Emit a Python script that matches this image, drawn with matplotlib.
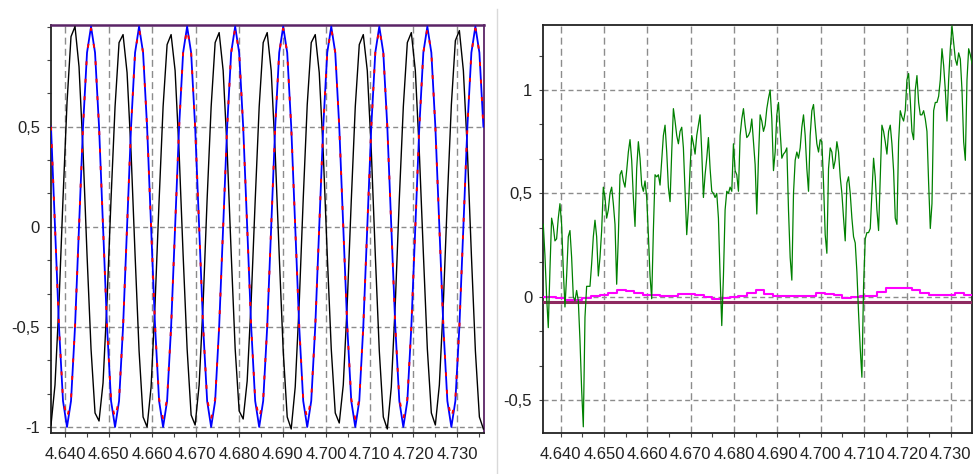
import numpy as np
import matplotlib
matplotlib.use('Agg')
import matplotlib.pyplot as plt
from matplotlib.ticker import MultipleLocator, AutoMinorLocator, FixedLocator, FuncFormatter
from matplotlib.lines import Line2D

# ---- left panel: three sampled waveforms (12 samples per period) ----
left_t0 = 4.63679
left_dt = 0.0009192

black_vals = [
    -0.99, -0.79, -0.38, 0.14, 0.62, 0.95, 1.00, 0.80, 0.38, -0.14, -0.61, -0.93,
    -0.97, -0.78, -0.37, 0.14, 0.60, 0.92, 0.96, 0.77, 0.37, -0.14, -0.62, -0.95,
    -1.00, -0.80, -0.38, 0.13, 0.60, 0.91, 0.96, 0.78, 0.37, -0.14, -0.61, -0.94,
    -0.99, -0.79, -0.38, 0.14, 0.60, 0.92, 0.97, 0.78, 0.38, -0.13, -0.61, -0.92,
    -0.96, -0.77, -0.37, 0.13, 0.60, 0.92, 0.97, 0.78, 0.37, -0.14, -0.62, -0.95,
    -1.01, -0.80, -0.38, 0.14, 0.61, 0.92, 0.96, 0.77, 0.37, -0.14, -0.61, -0.93,
    -0.98, -0.79, -0.38, 0.13, 0.60, 0.91, 0.96, 0.78, 0.38, -0.14, -0.62, -0.95,
    -1.01, -0.80, -0.38, 0.14, 0.60, 0.92, 0.97, 0.78, 0.37, -0.13, -0.61, -0.93,
    -0.99, -0.79, -0.38, 0.14, 0.61, 0.93, 0.98, 0.78, 0.38, -0.14, -0.62, -0.95,
    -1.01,
]

blue_vals = [
    0.50, 0.00, -0.50, -0.87, -1.00, -0.87, -0.50, 0.00, 0.50, 0.87, 1.00, 0.87,
    0.50, 0.00, -0.50, -0.87, -1.00, -0.87, -0.50, 0.00, 0.50, 0.87, 1.00, 0.87,
    0.50, 0.00, -0.50, -0.87, -1.00, -0.87, -0.50, 0.00, 0.50, 0.87, 1.00, 0.87,
    0.50, 0.00, -0.50, -0.87, -1.00, -0.87, -0.50, 0.00, 0.50, 0.87, 1.00, 0.87,
    0.50, 0.00, -0.50, -0.87, -1.00, -0.87, -0.50, 0.00, 0.50, 0.87, 1.00, 0.87,
    0.50, 0.00, -0.50, -0.87, -1.00, -0.87, -0.50, 0.00, 0.50, 0.87, 1.00, 0.87,
    0.50, 0.00, -0.50, -0.87, -1.00, -0.87, -0.50, 0.00, 0.50, 0.87, 1.00, 0.87,
    0.50, 0.00, -0.50, -0.87, -1.00, -0.87, -0.50, 0.00, 0.50, 0.87, 1.00, 0.87,
    0.50, 0.00, -0.50, -0.87, -1.00, -0.87, -0.50, 0.00, 0.50, 0.87, 1.00, 0.87,
    0.50,
]

red_vals = [
    0.50, 0.00, -0.50, -0.86, -0.96, -0.86, -0.50, 0.00, 0.50, 0.87, 0.99, 0.87,
    0.50, 0.00, -0.50, -0.86, -0.96, -0.86, -0.50, 0.00, 0.50, 0.87, 0.99, 0.87,
    0.50, 0.00, -0.50, -0.86, -0.96, -0.86, -0.50, 0.00, 0.50, 0.87, 0.99, 0.87,
    0.50, 0.00, -0.50, -0.86, -0.96, -0.86, -0.50, 0.00, 0.50, 0.87, 0.99, 0.87,
    0.50, 0.00, -0.50, -0.86, -0.96, -0.86, -0.50, 0.00, 0.50, 0.87, 0.99, 0.87,
    0.50, 0.00, -0.50, -0.86, -0.96, -0.86, -0.50, 0.00, 0.50, 0.87, 0.99, 0.87,
    0.50, 0.00, -0.50, -0.86, -0.96, -0.86, -0.50, 0.00, 0.50, 0.87, 0.99, 0.87,
    0.50, 0.00, -0.50, -0.86, -0.96, -0.86, -0.50, 0.00, 0.50, 0.87, 0.99, 0.87,
    0.50, 0.00, -0.50, -0.86, -0.96, -0.86, -0.50, 0.00, 0.50, 0.87, 0.99, 0.87,
    0.50,
]

# ---- right panel ----
green_t0 = 4.63598
green_dt = 0.000385
green_vals = [
    0.35, 0.20, 0.00, -0.15, 0.13, 0.38, 0.34, 0.27, 0.28, 0.38, 0.45, 0.35,
    0.13, -0.05, 0.10, 0.29, 0.32, 0.19, 0.00, -0.02, 0.03, -0.02, -0.21, -0.45,
    -0.63, -0.10, 0.05, 0.05, 0.05, 0.16, 0.29, 0.37, 0.29, 0.10, 0.19, 0.32,
    0.53, 0.48, 0.38, 0.42, 0.50, 0.53, 0.45, 0.35, 0.06, 0.29, 0.59, 0.61,
    0.56, 0.53, 0.61, 0.70, 0.76, 0.66, 0.48, 0.34, 0.62, 0.75, 0.67, 0.54,
    0.51, 0.56, 0.48,
    0.30, 0.10, -0.01, 0.32, 0.59, 0.58, 0.59, 0.54, 0.66, 0.78, 0.83, 0.70,
    0.53, 0.46, 0.70, 0.91, 0.85, 0.78, 0.74, 0.80, 0.82, 0.72, 0.51, 0.30,
    0.43, 0.62, 0.78, 0.74, 0.69, 0.78, 0.83, 0.88, 0.70, 0.48, 0.59, 0.67,
    0.77, 0.62, 0.51, 0.50, 0.48, 0.50, 0.38, 0.10, -0.14, 0.10, 0.42, 0.51,
    0.50, 0.53, 0.51, 0.74, 0.61, 0.59, 0.51, 0.78, 0.86, 0.91, 0.83, 0.77,
    0.78, 0.80, 0.86, 0.75, 0.64,
    0.40, 0.67, 0.88, 0.85, 0.80, 0.83, 0.91, 0.96, 1.00, 0.86, 0.61, 0.70,
    0.88, 0.94, 0.80, 0.67, 0.69, 0.70, 0.72, 0.42, 0.19, 0.08, 0.50, 0.66,
    0.70, 0.67, 0.72, 0.82, 0.88, 0.78, 0.62, 0.51, 0.78, 0.90, 0.93, 0.83,
    0.74, 0.70, 0.76, 0.75, 0.55, 0.30, 0.21, 0.62, 0.72, 0.70, 0.62, 0.66,
    0.75, 0.70, 0.58, 0.50, 0.38, 0.27, 0.55, 0.58, 0.50, 0.38, 0.29, 0.26,
    0.12, -0.08, -0.25, -0.39, 0.05,
    0.28, 0.31, 0.31, 0.33, 0.50, 0.67, 0.58, 0.42, 0.32, 0.58, 0.83, 0.80,
    0.75, 0.69, 0.80, 0.83, 0.74, 0.61, 0.38, 0.35, 0.75, 0.90, 0.87, 0.85,
    0.90, 1.05, 1.08, 0.95, 0.80, 0.76, 1.00, 1.07, 0.94, 0.88, 0.88, 0.90,
    0.86, 0.80, 0.55, 0.33, 0.45, 0.90, 0.94, 0.94, 0.97, 1.05, 1.20, 1.12,
    1.00, 0.85, 1.05, 1.20, 1.31, 1.23, 1.15, 1.12, 1.18, 1.15, 1.00, 0.75,
    0.66, 1.05, 1.20, 1.17, 1.13, 1.10,
]

magenta_t0 = 4.636
magenta_dt = 0.002
magenta_vals = [
    -0.003, -0.003, -0.005, -0.016, -0.016, -0.008, 0.005, 0.010, 0.016, 0.032,
    0.027, 0.016, 0.008, 0.008, 0.005, 0.005, 0.013, 0.013, 0.010, -0.003,
    -0.013, -0.005, 0.000, 0.005, 0.018, 0.030, 0.015, 0.005, 0.005, 0.002,
    0.002, 0.005, 0.016, 0.014, 0.008, -0.008, 0.000, 0.002, 0.005, 0.024,
    0.044, 0.044, 0.040, 0.031, 0.016, 0.010, 0.010, 0.010, 0.018, 0.010,
    0.010,
]
offset_level = -0.024

left_yticks = [-1, -0.5, 0, 0.5]
right_yticks = [-0.5, 0, 0.5, 1]

TXT = '#222222'
GRID = '#8c8c8c'
FONT = ['Liberation Sans Narrow', 'Liberation Sans', 'DejaVu Sans']


def comma_fmt(v, pos):
    return ('%g' % round(v, 3)).replace('.', ',')


def style_axes(ax, yticks, xlim, ylim):
    ax.set_xlim(*xlim)
    ax.set_ylim(*ylim)
    ax.xaxis.set_major_locator(MultipleLocator(0.01))
    ax.xaxis.set_minor_locator(AutoMinorLocator(2))
    ax.xaxis.set_major_formatter(FuncFormatter(lambda v, p: '%.3f' % v))
    ax.yaxis.set_major_locator(FixedLocator(yticks))
    ax.yaxis.set_minor_locator(AutoMinorLocator(3))
    ax.yaxis.set_major_formatter(FuncFormatter(comma_fmt))
    ax.tick_params(which='both', direction='out', length=3, width=0.8,
                   colors='#444444', labelcolor=TXT, labelsize=12, pad=5)
    ax.tick_params(axis='x', pad=7)
    for lab in ax.get_xticklabels() + ax.get_yticklabels():
        lab.set_family(FONT)
    ax.grid(True, axis='x', which='major', color=GRID, lw=1.0,
            linestyle=(0, (5, 3)))
    ax.grid(True, axis='y', which='major', color=GRID, lw=1.0,
            linestyle=(0, (3.6, 2.4)))
    ax.set_axisbelow(True)
    for s in ax.spines.values():
        s.set_color('#222222')
        s.set_linewidth(1.3)


fig = plt.figure(figsize=(9.75, 4.74), dpi=100)

# left panel
ax1 = fig.add_axes([0.0523, 0.0865, 0.4441, 0.8608])
t_left = left_t0 + left_dt * np.arange(len(blue_vals))
ax1.plot(t_left, black_vals, color='black', lw=1.0, zorder=3)
ax1.plot(t_left, blue_vals, color='#0000ff', lw=1.3, zorder=4)
ax1.plot(t_left, red_vals, color='#ff0000', lw=1.4, linestyle=(0, (2.0, 7.0)), zorder=5)
style_axes(ax1, left_yticks, (4.63679, 4.7362), (-1.03, 1.008))
ax1.spines['top'].set_color('#5b2466')
ax1.spines['right'].set_color('#5b2466')
ax1.spines['top'].set_linewidth(1.8)

# right panel
ax2 = fig.add_axes([0.5572, 0.0865, 0.4397, 0.8608])
t_green = green_t0 + green_dt * np.arange(len(green_vals))
t_mag = magenta_t0 + magenta_dt * np.arange(len(magenta_vals))
ax2.axhline(offset_level, color='#8e2a60', lw=2.2, zorder=3)
ax2.plot(t_mag, magenta_vals, color='#ff00ff', lw=1.5, drawstyle='steps-mid', zorder=4)
ax2.plot(t_green, green_vals, color='#008000', lw=0.9, zorder=5)
style_axes(ax2, right_yticks, (4.63598, 4.73492), (-0.66, 1.315))

# thin separator between the two panels
fig.add_artist(Line2D([0.5095, 0.5095], [0.0, 0.98], color='#d9d9d9', lw=1.0))

fig.savefig('out.png', dpi=100)
